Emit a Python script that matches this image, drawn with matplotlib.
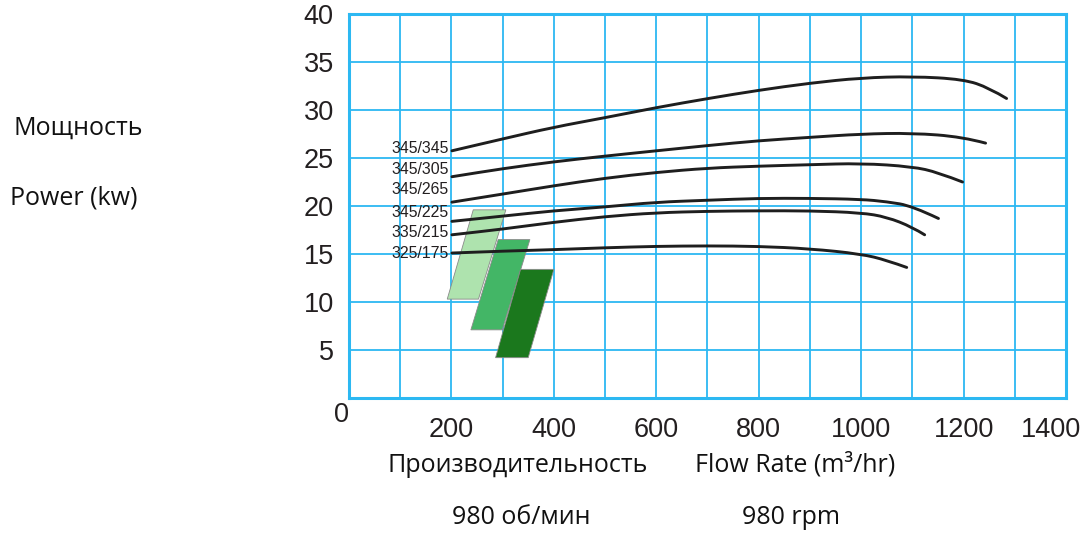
import matplotlib
matplotlib.use("Agg")
import matplotlib.pyplot as plt
from matplotlib.patches import Polygon, PathPatch
from matplotlib.path import Path
from matplotlib.ticker import MultipleLocator
from matplotlib.transforms import ScaledTranslation

# ---- data ----
curve_names = ["345/345", "345/305", "345/265", "345/225", "335/215", "325/175"]

flow_345_345 = [201, 301, 399, 500, 600, 701, 799, 900, 1000, 1100, 1200, 1250, 1284]
power_345_345 = [25.75, 27.0, 28.2, 29.2, 30.25, 31.2, 32.05, 32.8, 33.35, 33.5, 33.2, 32.3, 31.2]

flow_345_305 = [201, 301, 399, 500, 600, 701, 799, 900, 1000, 1100, 1198, 1243]
power_345_305 = [23.05, 23.9, 24.6, 25.2, 25.75, 26.3, 26.8, 27.15, 27.5, 27.6, 27.2, 26.55]

flow_345_265 = [201, 301, 399, 500, 600, 701, 799, 900, 1000, 1100, 1150, 1198]
power_345_265 = [20.4, 21.25, 22.1, 22.9, 23.5, 23.95, 24.15, 24.3, 24.45, 24.1, 23.5, 22.5]

flow_345_225 = [201, 301, 399, 500, 600, 701, 799, 900, 1000, 1050, 1100, 1151]
power_345_225 = [18.4, 18.95, 19.5, 19.9, 20.4, 20.6, 20.8, 20.8, 20.7, 20.45, 20.0, 18.7]

flow_335_215 = [201, 301, 399, 500, 600, 701, 799, 900, 1000, 1050, 1100, 1124]
power_335_215 = [17.0, 17.6, 18.3, 18.9, 19.3, 19.45, 19.5, 19.5, 19.3, 18.85, 17.8, 17.0]

flow_325_175 = [201, 301, 399, 500, 600, 701, 799, 900, 1000, 1050, 1089]
power_325_175 = [15.1, 15.3, 15.45, 15.65, 15.8, 15.85, 15.8, 15.55, 15.0, 14.35, 13.6]

label_power = [26.0, 23.8, 21.7, 19.3, 17.2, 15.1]
label_flow = 194

# parallelogram regions (flow, power vertices)
band_light_flow = [191.8, 242.6, 306.3, 252.8]
band_light_power = [10.3, 19.6, 19.6, 10.3]
band_mid_flow = [238.0, 291.3, 353.2, 299.2]
band_mid_power = [7.1, 16.5, 16.5, 7.1]
band_dark_flow = [286.2, 335.0, 400.0, 349.9]
band_dark_power = [4.2, 13.4, 13.4, 4.2]

x_ticks = [200, 400, 600, 800, 1000, 1200, 1400]
y_ticks = [5, 10, 15, 20, 25, 30, 35, 40]

# ---- figure ----
W, H = 1085, 533
fig = plt.figure(figsize=(W / 100, H / 100), dpi=100)
ax = fig.add_axes([349 / W, 1 - 398 / H, 717 / W, 384 / H])

grid_c = "#2cb8f2"
ax.set_xlim(0, 1400)
ax.set_ylim(0, 40)
ax.xaxis.set_minor_locator(MultipleLocator(100))
ax.set_xticks(x_ticks)
ax.set_yticks(y_ticks)
ax.grid(True, which="both", color=grid_c, linewidth=1.3)
ax.set_axisbelow(True)
for s in ax.spines.values():
    s.set_color(grid_c)
    s.set_linewidth(2.2)
ax.tick_params(which="both", length=0)
ax.tick_params(axis="x", pad=14)
ax.tick_params(axis="y", pad=11)
for lab in ax.get_xticklabels() + ax.get_yticklabels():
    lab.set_fontfamily("Liberation Sans")
    lab.set_fontsize(19.5)
    lab.set_color("#231f20")
# last x label sits slightly inside in the reference
last = ax.get_xticklabels()[-1]
last.set_transform(last.get_transform() + ScaledTranslation(-15 / 100, 0, fig.dpi_scale_trans))

# bands
bands = [
    (band_light_flow, band_light_power, "#aee3ae"),
    (band_mid_flow, band_mid_power, "#43b666"),
    (band_dark_flow, band_dark_power, "#1b781d"),
]
for fx, py, col in bands:
    ax.add_patch(Polygon(list(zip(fx, py)), closed=True, facecolor=col,
                         edgecolor="#8a8a8a", linewidth=0.6, zorder=2))


def smooth_path(xs, ys):
    pts = list(zip(xs, ys))
    verts = [pts[0]]
    codes = [Path.MOVETO]
    for i in range(1, len(pts) - 1):
        mx = (pts[i][0] + pts[i + 1][0]) / 2
        my = (pts[i][1] + pts[i + 1][1]) / 2
        if i == 1:
            verts.append(((pts[0][0] + pts[1][0]) / 2, (pts[0][1] + pts[1][1]) / 2))
            codes.append(Path.LINETO)
        if i == len(pts) - 2:
            verts += [pts[i], pts[i + 1]]
        else:
            verts += [pts[i], (mx, my)]
        codes += [Path.CURVE3, Path.CURVE3]
    return Path(verts, codes)


curves = [
    (flow_345_345, power_345_345),
    (flow_345_305, power_345_305),
    (flow_345_265, power_345_265),
    (flow_345_225, power_345_225),
    (flow_335_215, power_335_215),
    (flow_325_175, power_325_175),
]
for (fx, py), name, ly in zip(curves, curve_names, label_power):
    ax.add_patch(PathPatch(smooth_path(fx, py), facecolor="none", edgecolor="#1e1e1e",
                           linewidth=2.1, capstyle="round", zorder=3))
    ax.text(label_flow, ly, name, ha="right", va="center", fontsize=11.4,
            family="Liberation Sans", color="#231f20", zorder=4)

# corner zero label
ax.text(-15, -1.8, "0", ha="center", va="center",
        fontsize=19.5, family="Liberation Sans", color="#231f20", clip_on=False)


def ftext(px, py, s, ha="left"):
    fig.text(px / W, 1 - py / H, s, ha=ha, va="center", family="Open Sans",
             fontsize=18, color="#111111")


ftext(13, 128, "Мощность")
ftext(10, 198, "Power (kw)")
ftext(388, 465, "Производительность")
ftext(695, 465, "Flow Rate (m³/hr)")
ftext(452, 518, "980 об/мин")
ftext(742, 518, "980 rpm")

fig.savefig("out.png", dpi=100)
